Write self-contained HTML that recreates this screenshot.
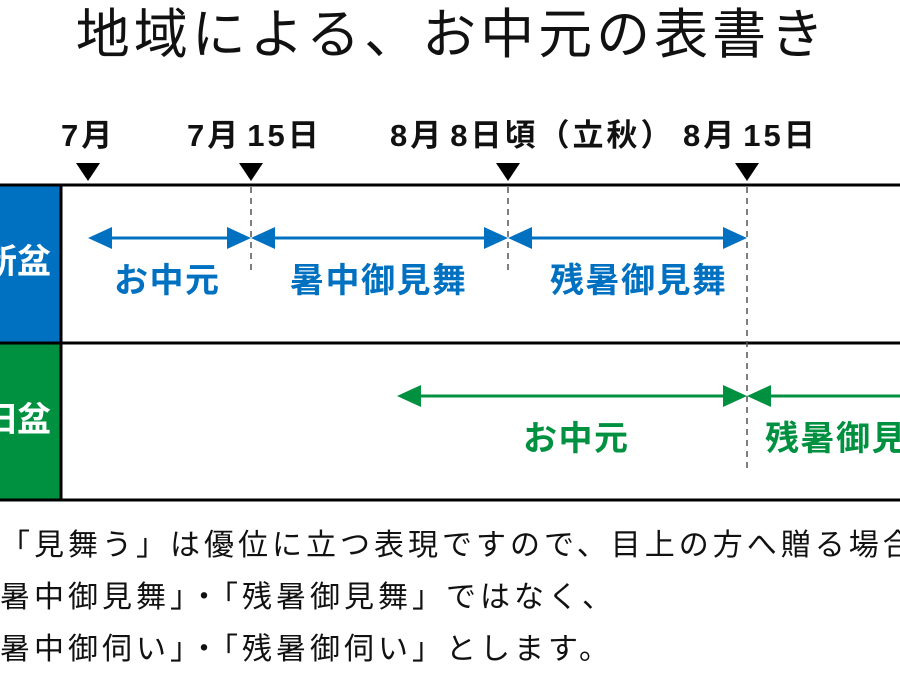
<!DOCTYPE html>
<html><head><meta charset="utf-8"><style>
body{margin:0;width:900px;height:686px;overflow:hidden;background:#fff;position:relative;font-family:"Liberation Sans","Noto Sans CJK JP",sans-serif}
.t{position:absolute;white-space:nowrap;line-height:1}
.d{font-weight:bold;font-size:31px;letter-spacing:3px;top:120px;color:#111}
.d i{display:inline-block;width:6px}
.b{font-weight:bold;font-size:34px;letter-spacing:1.5px;color:#0070c0}
.g{font-weight:bold;font-size:34px;letter-spacing:1.5px;color:#009140}
.n{font-size:30px;letter-spacing:4px;color:#111}
</style></head><body>
<div class="t" style="left:0;width:904px;text-align:center;top:8px;font-size:54px;letter-spacing:4px;color:#111">地域による、お中元の表書き</div>
<div class="t d" style="left:61px">7月</div>
<div class="t d" style="left:187px">7月<i></i>15日</div>
<div class="t d" style="left:390px">8月<i></i>8日頃（立秋）</div>
<div class="t d" style="left:683px">8月<i></i>15日</div>
<svg width="900" height="686" style="position:absolute;left:0;top:0">
<rect x="0" y="185" width="61" height="158" fill="#0070c0"/>
<rect x="0" y="343" width="61" height="157" fill="#009140"/>
<g fill="#000"><path d="M76 163h24l-12 18z"/><path d="M239 163h24l-12 18z"/><path d="M496 163h24l-12 18z"/><path d="M735 163h24l-12 18z"/></g>
<g stroke="#000" stroke-width="3"><line x1="0" y1="185" x2="900" y2="185"/><line x1="0" y1="343" x2="900" y2="343"/><line x1="0" y1="500" x2="900" y2="500"/><line x1="61" y1="185" x2="61" y2="500"/></g>
<g stroke="#555" stroke-width="1.5" stroke-dasharray="6,5"><line x1="251" y1="187" x2="251" y2="272"/><line x1="508" y1="187" x2="508" y2="272"/><line x1="747" y1="187" x2="747" y2="470"/></g>
<g stroke="#0070c0" stroke-width="3"><line x1="100" y1="238" x2="238" y2="238"/><line x1="264" y1="238" x2="495" y2="238"/><line x1="521" y1="238" x2="734" y2="238"/></g>
<g fill="#0070c0"><path d="M88 238l24-11v22z"/><path d="M251 238l-24-11v22z"/><path d="M251 238l24-11v22z"/><path d="M508 238l-24-11v22z"/><path d="M508 238l24-11v22z"/><path d="M747 238l-24-11v22z"/></g>
<g stroke="#009140" stroke-width="3"><line x1="409" y1="396" x2="734" y2="396"/><line x1="760" y1="396" x2="900" y2="396"/></g>
<g fill="#009140"><path d="M397 396l24-11v22z"/><path d="M747 396l-24-11v22z"/><path d="M747 396l24-11v22z"/></g>
</svg>
<div class="t" style="left:-17px;top:245px;font-size:34px;font-weight:bold;color:#fff">新盆</div>
<div class="t" style="left:-17px;top:403px;font-size:34px;font-weight:bold;color:#fff">旧盆</div>
<div class="t b" style="left:114px;top:264px">お中元</div>
<div class="t b" style="left:290px;top:264px">暑中御見舞</div>
<div class="t b" style="left:550px;top:264px">残暑御見舞</div>
<div class="t g" style="left:523px;top:422px">お中元</div>
<div class="t g" style="left:765px;top:422px">残暑御見舞</div>
<div class="t n" style="left:0;top:531px">「見舞う」は優位に立つ表現ですので、目上の方へ贈る場合は</div>
<div class="t n" style="left:-34px;top:583px">「暑中御見舞」・「残暑御見舞」ではなく、</div>
<div class="t n" style="left:-34px;top:635px">「暑中御伺い」・「残暑御伺い」とします。</div>
</body></html>
